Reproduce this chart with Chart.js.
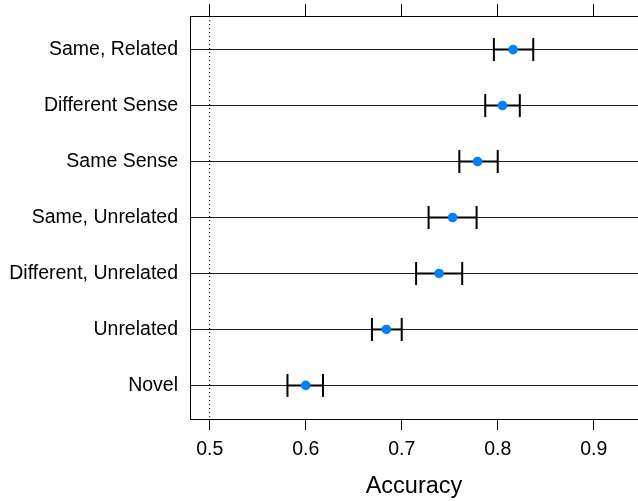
<!DOCTYPE html>
<html>
<head>
<meta charset="utf-8">
<style>
  html, body { margin: 0; padding: 0; background: #ffffff; }
  #wrap { width: 638px; height: 501px; }
</style>
<script src="https://cdn.jsdelivr.net/npm/chart.js@4/dist/chart.umd.min.js"></script>
</head>
<body>
<div id="wrap"><canvas id="c" width="638" height="501"></canvas></div>
<script>
// ---- data ----
const categories = ["Same, Related", "Different Sense", "Same Sense", "Same, Unrelated", "Different, Unrelated", "Unrelated", "Novel"];
const accuracy = [0.816, 0.805, 0.779, 0.753, 0.739, 0.684, 0.600];
const lower    = [0.796, 0.787, 0.760, 0.728, 0.715, 0.669, 0.581];
const upper    = [0.837, 0.823, 0.800, 0.778, 0.763, 0.700, 0.618];
const xTicks   = [0.5, 0.6, 0.7, 0.8, 0.9];
const chanceLevel = 0.5;
const xTitle = "Accuracy";

// ---- axis ranges ----
const X_MIN = 0.4795, X_MAX = 0.9461;
const Y_MIN = -0.6, Y_MAX = categories.length - 1 + 0.6;

const FONT = "'Liberation Sans', Arial, Helvetica, sans-serif";

const ciDatasets = categories.map((c, i) => ({
  type: 'line',
  data: [{x: lower[i], y: i}, {x: upper[i], y: i}],
  borderColor: '#000000',
  borderWidth: 2,
  pointRadius: 0,
  fill: false,
  order: 4
}));

const capData = [];
categories.forEach((c, i) => {
  capData.push({x: lower[i], y: i});
  capData.push({x: upper[i], y: i});
});

const datasets = [
  {
    type: 'line',
    data: [{x: chanceLevel, y: Y_MIN}, {x: chanceLevel, y: Y_MAX}],
    borderColor: '#000000',
    borderWidth: 1,
    borderDash: [1.2, 2.8],
    pointRadius: 0,
    fill: false,
    order: 6
  },
  ...ciDatasets,
  {
    type: 'scatter',
    data: capData,
    pointStyle: 'line',
    rotation: 90,
    pointRadius: 11.5,
    pointHoverRadius: 11.5,
    borderColor: '#000000',
    backgroundColor: '#000000',
    borderWidth: 2,
    order: 3
  },
  {
    type: 'scatter',
    data: accuracy.map((v, i) => ({x: v, y: i})),
    pointStyle: 'circle',
    pointRadius: 4.8,
    pointHoverRadius: 4.8,
    backgroundColor: '#0080ff',
    borderWidth: 0,
    order: 1
  }
];

function noPad(s) { s.paddingLeft = 0; s.paddingRight = 0; s.paddingTop = 0; s.paddingBottom = 0; }

new Chart(document.getElementById('c'), {
  type: 'scatter',
  data: { datasets },
  options: {
    responsive: false,
    animation: false,
    events: [],
    layout: { padding: 0, autoPadding: false },
    plugins: { legend: { display: false }, tooltip: { enabled: false } },
    scales: {
      x: {
        type: 'linear',
        position: 'bottom',
        min: X_MIN, max: X_MAX,
        afterBuildTicks: (s) => { s.ticks = xTicks.map(v => ({value: v})); },
        afterFit: (s) => { s.height = 82; noPad(s); },
        grid: { display: true, drawOnChartArea: false, drawTicks: true, tickLength: 11, tickColor: '#000000', tickWidth: 1 },
        border: { display: true, color: '#000000', width: 1 },
        ticks: {
          color: '#000000', padding: 8, maxRotation: 0, autoSkip: false,
          font: { family: FONT, size: 19.5 },
          callback: (v) => v.toFixed(1)
        },
        title: {
          display: true, text: xTitle, color: '#000000',
          font: { family: FONT, size: 23.5 },
          padding: { top: 0, bottom: 0 }
        }
      },
      x2: {
        type: 'linear',
        position: 'top',
        min: X_MIN, max: X_MAX,
        afterBuildTicks: (s) => { s.ticks = xTicks.map(v => ({value: v})); },
        afterFit: (s) => { s.height = 16; noPad(s); },
        grid: { display: true, drawOnChartArea: false, drawTicks: true, tickLength: 12, tickColor: '#000000', tickWidth: 1 },
        border: { display: true, color: '#000000', width: 1 },
        ticks: { display: false }
      },
      y: {
        type: 'linear',
        position: 'left',
        min: Y_MIN, max: Y_MAX,
        reverse: true,
        afterBuildTicks: (s) => { s.ticks = categories.map((c, i) => ({value: i})); },
        afterFit: (s) => { s.width = 190; noPad(s); },
        grid: { display: true, drawOnChartArea: true, drawTicks: false, color: '#1a1a1a', lineWidth: 1 },
        border: { display: true, color: '#000000', width: 1 },
        ticks: {
          color: '#000000', padding: 12, autoSkip: false,
          font: { family: FONT, size: 19.5 },
          callback: (v) => categories[v]
        }
      }
    }
  }
});
</script>
</body>
</html>
